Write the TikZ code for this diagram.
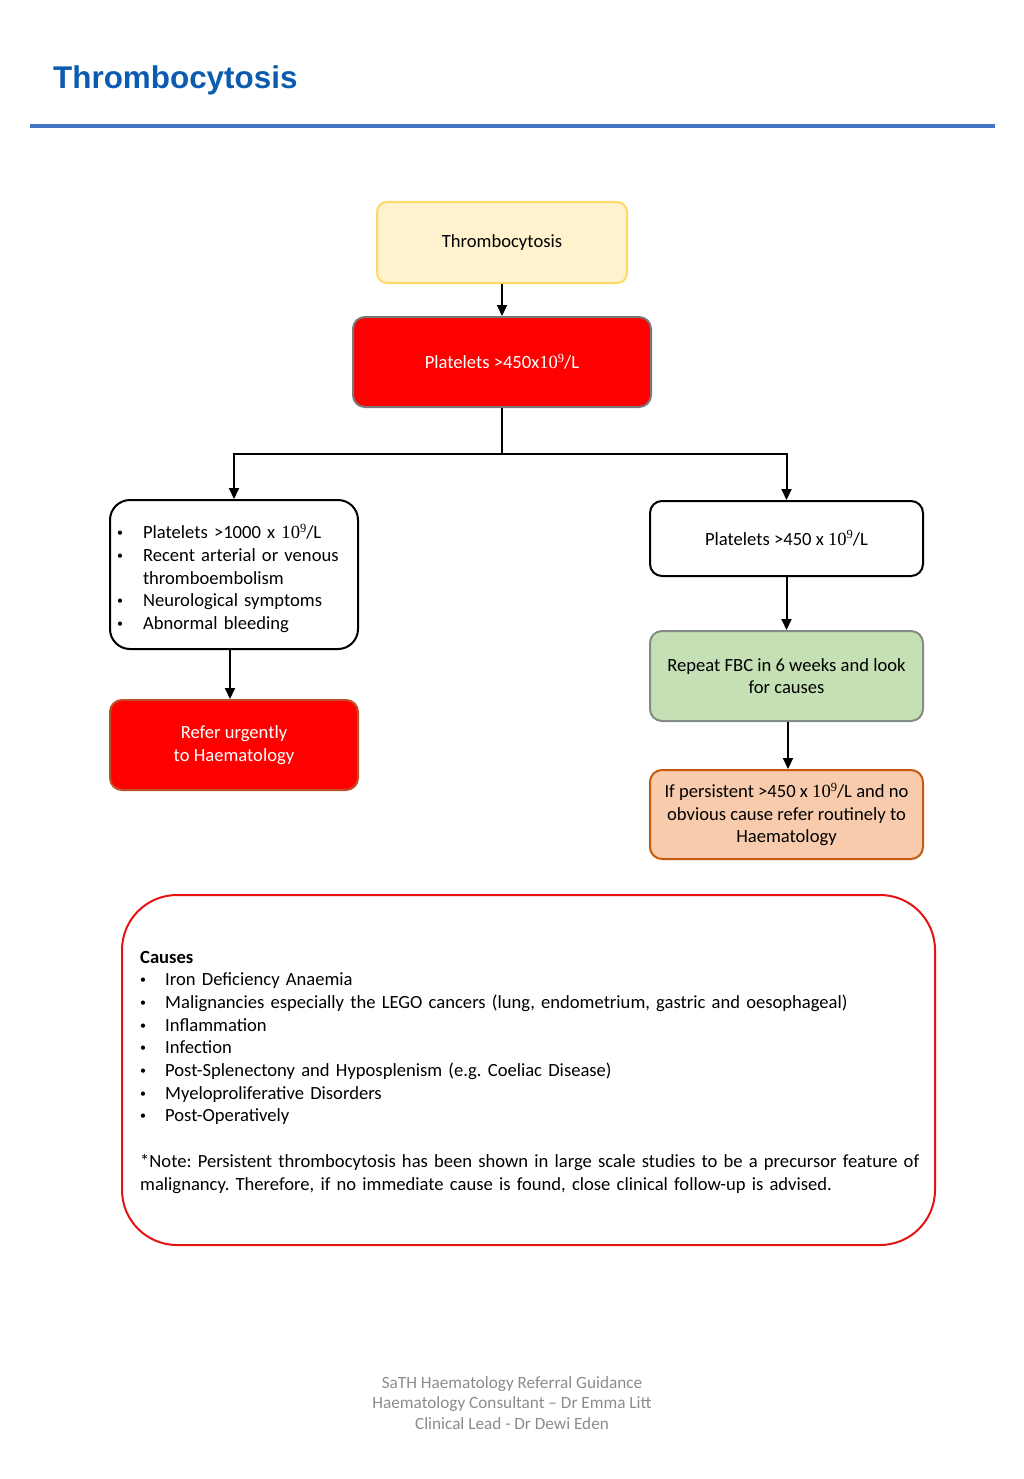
\documentclass[tikz,border=0pt]{standalone}
\usepackage{fontspec}
\setmainfont{Carlito}
\newfontfamily\titlefont{Liberation Sans}
\newfontfamily\numfont{Liberation Serif}
\usetikzlibrary{arrows.meta}
\definecolor{titleblue}{RGB}{11,91,176}
\definecolor{rulecol}{RGB}{68,114,196}
\definecolor{yelfill}{RGB}{255,242,204}
\definecolor{yeldraw}{RGB}{255,217,102}
\definecolor{redfill}{RGB}{255,0,0}
\definecolor{redgray}{RGB}{120,120,120}
\definecolor{urgdraw}{RGB}{192,80,40}
\definecolor{grnfill}{RGB}{197,224,180}
\definecolor{grndraw}{RGB}{130,140,130}
\definecolor{orgfill}{RGB}{248,203,173}
\definecolor{orgdraw}{RGB}{197,90,17}
\definecolor{causedraw}{RGB}{228,20,20}
\definecolor{footgray}{RGB}{140,140,140}
\newcommand\bodysize{\fontsize{18.6pt}{22.7pt}\selectfont\frenchspacing}
\newcommand\tenpow{{\numfont 10\raisebox{6.5pt}{\fontsize{12.5pt}{12.5pt}\selectfont 9}}}
\newcommand\smallbullet{\raisebox{2pt}{\fontsize{12pt}{12pt}\selectfont\textbullet}}
\newcommand\blt[2][26pt]{\par\noindent\hangindent=#1\hangafter=1\makebox[#1][l]{\smallbullet}#2}
\tikzset{
  box/.style={draw, line width=2pt, rounded corners=12pt, align=center, inner sep=0pt, font=\bodysize},
  arr/.style={line width=2pt, -{Triangle[length=11pt,width=10pt]}},
  conn/.style={line width=2pt}
}
\begin{document}
\begin{tikzpicture}[x=1pt,y=-1pt]
\useasboundingbox (0,0) rectangle (1024,1479);
% title
\node[anchor=base west, inner sep=0pt, text=titleblue, font=\titlefont\bfseries\fontsize{31.4pt}{37pt}\selectfont] (title) at (53,89) {Thrombocytosis};
\draw[rulecol, line width=4pt] (30,126) -- (995,126);
% flow boxes
\node[box, draw=yeldraw, fill=yelfill, rounded corners=10pt, minimum width=250pt, minimum height=81pt] (top) at (502,242.5) {Thrombocytosis};
\node[box, draw=redgray, fill=redfill, text=white, minimum width=298pt, minimum height=90pt] (plt) at (502,362) {Platelets >450x\tenpow/L};
\node[box, draw=black, fill=white, rounded corners=20pt, minimum width=248pt, minimum height=149pt, text width=234pt, inner xsep=7pt, align=left] (lbox) at (234,574.5) {\blt{Platelets >1000 x \tenpow/L}\blt{Recent arterial or venous\newline thromboembolism}\blt{Neurological symptoms}\blt{Abnormal bleeding}};
\node[box, draw=urgdraw, fill=redfill, text=white, minimum width=248pt, minimum height=90pt] (urg) at (234,745) {Refer urgently\\to Haematology};
\node[box, draw=black, fill=white, minimum width=273pt, minimum height=75pt] (rbox) at (786.5,538.5) {Platelets >450 x \tenpow/L};
\node[box, draw=grndraw, fill=grnfill, minimum width=273pt, minimum height=90pt] (fbc) at (786.5,676) {Repeat FBC in 6 weeks and look\\for causes};
\node[box, draw=orgdraw, fill=orgfill, minimum width=273pt, minimum height=89pt] (pers) at (786.5,814.5) {If persistent >450 x \tenpow/L and no\\obvious cause refer routinely to\\Haematology};
% connectors
\coordinate (split) at (502,453.5);
\draw[arr] (top) -- (plt);
\draw[conn] (plt) -- (split);
\draw[arr] (split) -| (lbox.north);
\draw[arr] (split) -| (rbox.north);
\draw[arr] ([xshift=-4pt]lbox.south) -- ([xshift=-4pt]urg.north);
\draw[arr] (rbox) -- (fbc);
\draw[arr] ([xshift=1.5pt]fbc.south) -- ([xshift=1.5pt]pers.north);
% causes
\node[draw=causedraw, line width=2pt, rounded corners=55pt, fill=white, minimum width=813pt, minimum height=350pt] (cbox) at (528.5,1070) {};
\node[anchor=west, inner sep=0pt, text width=790pt, align=left, font=\bodysize] (ctext) at (140,1072) {{\bfseries Causes}\blt[25pt]{Iron Deficiency Anaemia}\blt[25pt]{Malignancies especially the LEGO cancers (lung, endometrium, gastric and oesophageal)}\blt[25pt]{Inflammation}\blt[25pt]{Infection}\blt[25pt]{Post-Splenectony and Hyposplenism (e.g. Coeliac Disease)}\blt[25pt]{Myeloproliferative Disorders}\blt[25pt]{Post-Operatively}\par\mbox{}\par\noindent *Note: Persistent thrombocytosis has been shown in large scale studies to be a precursor feature of\par\noindent malignancy. Therefore, if no immediate cause is found, close clinical follow-up is advised.};
% footer
\node[align=center, inner sep=0pt, text=footgray, font=\fontsize{17.2pt}{20.5pt}\selectfont] (foot) at (512,1403) {SaTH Haematology Referral Guidance\\Haematology Consultant -- Dr Emma Litt\\Clinical Lead - Dr Dewi Eden};
\end{tikzpicture}
\end{document}
